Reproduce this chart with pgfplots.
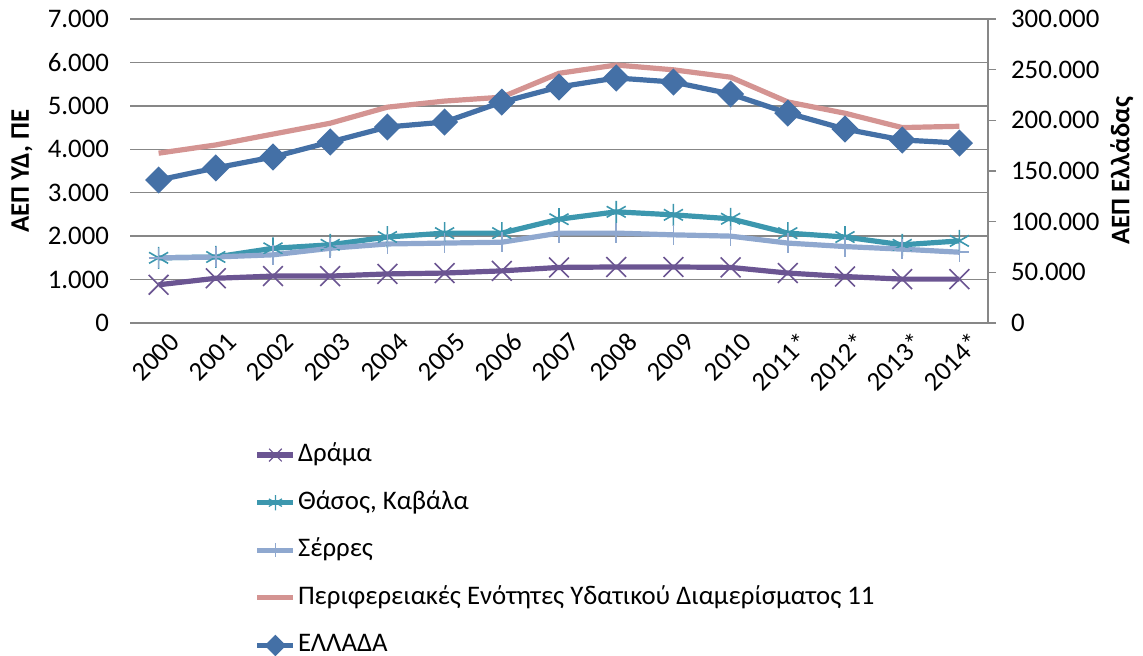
\documentclass[border=0pt]{standalone}
\usepackage{pgfplots}
\pgfplotsset{compat=1.18}
\usepackage{fontspec}
\setmainfont{Carlito}

\definecolor{drama}{HTML}{6B5592}
\definecolor{thasos}{HTML}{3C97AE}
\definecolor{serres}{HTML}{8FA8CF}
\definecolor{perif}{HTML}{D49492}
\definecolor{ellada}{HTML}{4470A6}
\definecolor{gridgray}{HTML}{878787}

\begin{document}
\begin{tikzpicture}
\useasboundingbox (-65pt,-166.5pt) rectangle (506.5pt,161.5pt);
\pgfplotsset{
  base/.style={
    width=429pt, height=152pt, scale only axis,
    at={(0,0)}, anchor=south west,
    xmin=-0.5, xmax=14.5, ymin=0,
    font=\fontsize{13.4}{16}\selectfont,
    scaled y ticks=false,
    clip=false,
  },
  every axis plot/.append style={line width=2.6pt},
}
\begin{axis}[base,
  ymax=7000, ytick={0,1000,...,7000},
  yticklabels={0,1.000,2.000,3.000,4.000,5.000,6.000,7.000},
  xtick={0,...,14},
  xticklabels={2000,2001,2002,2003,2004,2005,2006,2007,2008,2009,2010,2011*,2012*,2013*,2014*},
  xticklabel style={rotate=45, anchor=east, yshift=-11pt, xshift=4pt},
  axis x line*=bottom, axis y line*=left,
  y axis line style={draw=none},
  x axis line style={draw=gridgray, line width=0.7pt},
  ymajorgrids, grid style={draw=gridgray, line width=0.7pt},
  major tick length=0pt,
  yticklabel style={xshift=-7pt},
  ylabel={\textbf{ΑΕΠ ΥΔ, ΠΕ}},
  ylabel style={at={(axis description cs:-0.126,0.5)}, anchor=center},
  legend style={draw=none, fill=none, at={(axis description cs:0.145,-0.392)},
    anchor=north west, inner sep=0pt, row sep=11.3pt,
    nodes={inner xsep=1pt, inner ysep=0pt, text height=9.5pt, text depth=3pt},
    font=\fontsize{13.4}{16}\selectfont},
  legend cell align=left,
  legend image code/.code={\draw[mark repeat=2,mark phase=2] plot coordinates {(0pt,0pt)(9pt,0pt)(18pt,0pt)};},
]
\addplot[forget plot, drama, mark=x, mark size=7pt, mark options={solid, line width=0.8pt}] coordinates {
(0,880) (1,1030) (2,1080) (3,1080) (4,1130) (5,1150) (6,1200) (7,1280) (8,1290) (9,1290) (10,1280) (11,1150) (12,1070) (13,1010) (14,1010)};
\addplot[forget plot, thasos, mark=asterisk, mark size=5.5pt, mark options={solid, line width=0.8pt}] coordinates {
(0,1500) (1,1520) (2,1720) (3,1800) (4,1980) (5,2070) (6,2070) (7,2390) (8,2560) (9,2490) (10,2400) (11,2070) (12,1980) (13,1800) (14,1890)};
\addplot[forget plot, serres, mark=+, mark size=5pt, mark options={solid, line width=0.8pt}] coordinates {
(0,1500) (1,1520) (2,1570) (3,1720) (4,1820) (5,1840) (6,1860) (7,2070) (8,2070) (9,2030) (10,2000) (11,1840) (12,1760) (13,1700) (14,1630)};
\addplot[forget plot, perif, mark=none] coordinates {
(0,3910) (1,4100) (2,4350) (3,4600) (4,4970) (5,5110) (6,5200) (7,5750) (8,5940) (9,5830) (10,5660) (11,5090) (12,4830) (13,4500) (14,4530)};
\addlegendimage{drama, line width=2.6pt, mark=x, mark size=4.5pt, mark options={solid, line width=0.6pt}}
\addlegendimage{thasos, line width=2.6pt, mark=asterisk, mark size=3.8pt, mark options={solid, line width=0.6pt}}
\addlegendimage{serres, line width=2.6pt, mark=+, mark size=3.5pt, mark options={solid, line width=0.6pt}}
\addlegendimage{perif, line width=2.6pt}
\addlegendimage{ellada, line width=2.6pt, mark=square*, mark size=2.5pt, mark options={solid, rotate=45}}
\legend{Δράμα, {Θάσος, Καβάλα}, Σέρρες, Περιφερειακές Ενότητες Υδατικού Διαμερίσματος 11, ΕΛΛΑΔΑ}
\end{axis}
\begin{axis}[base,
  ymax=300000, ytick={0,50000,...,300000},
  yticklabels={0,50.000,100.000,150.000,200.000,250.000,300.000},
  axis y line*=right, axis x line=none,
  y axis line style={draw=gridgray, line width=0.7pt},
  ytick style={draw=gridgray, line width=0.7pt},
  tick align=outside, major tick length=4pt,
  yticklabel style={xshift=4pt},
  ylabel={\textbf{ΑΕΠ Ελλάδας}},
  ylabel style={at={(axis description cs:1.156,0.5)}, anchor=center},
]
\addplot[ellada, mark=square*, mark size=3.5pt, mark options={solid, rotate=45}] coordinates {
(0,141100) (1,153000) (2,163800) (3,178600) (4,193400) (5,198300) (6,218000) (7,232900) (8,241800) (9,237800) (10,226000) (11,207200) (12,191400) (13,180600) (14,177600)};
\end{axis}
\end{tikzpicture}
\end{document}
